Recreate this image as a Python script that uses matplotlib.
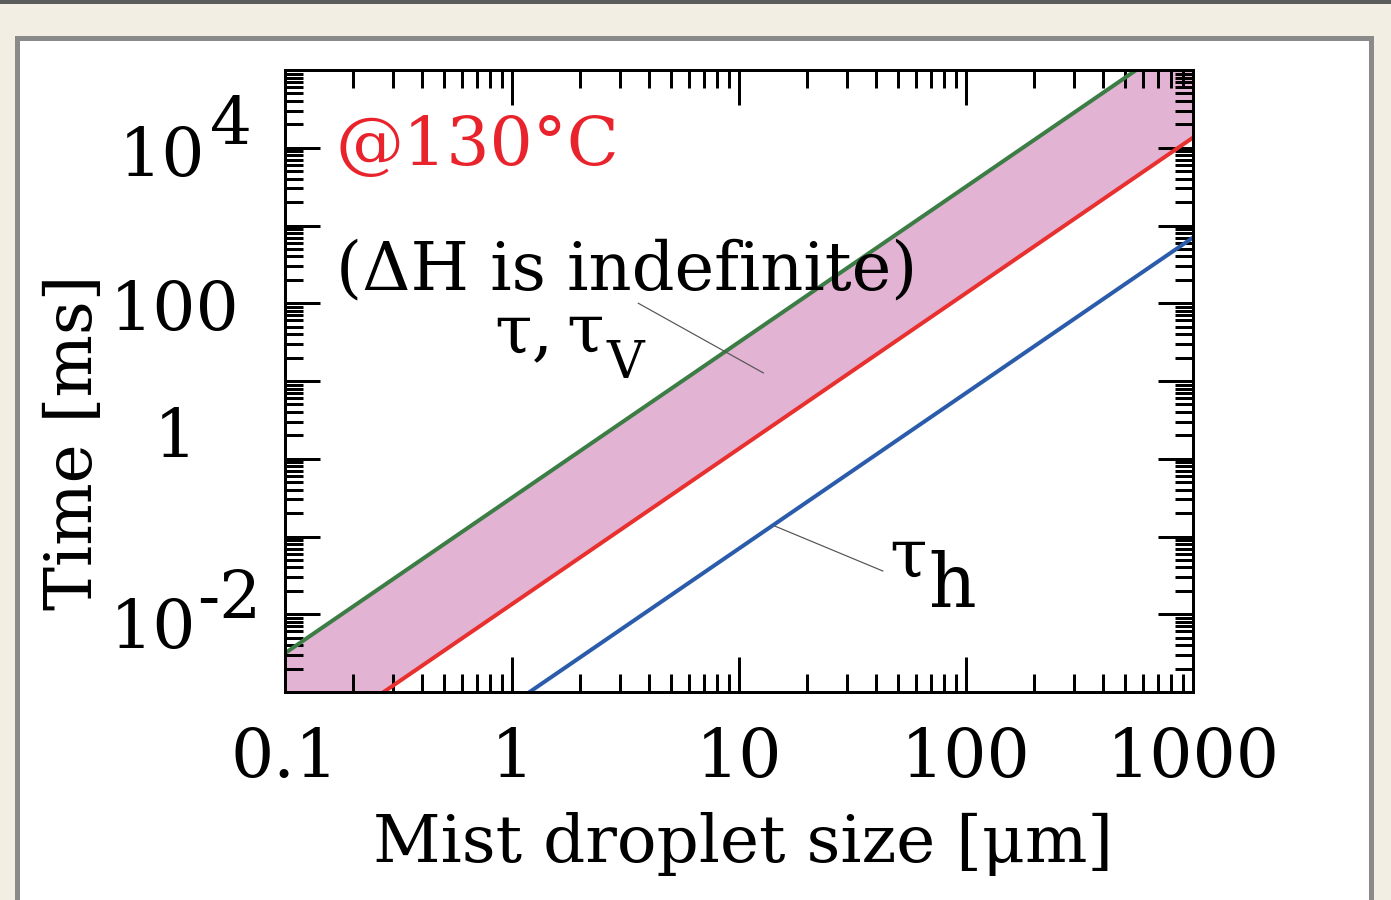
"""Mist droplet size vs. characteristic time at 130 C (log-log)."""

import matplotlib
matplotlib.use("Agg")
import matplotlib.pyplot as plt
import numpy as np
from matplotlib.patches import Rectangle
from matplotlib.ticker import FixedLocator, LogLocator, NullFormatter

# droplet size [um]
droplet_size = [0.1, 1, 10, 100, 1000]
# time [ms]
tau_upper = [3.16e-3, 0.316, 31.6, 3160, 3.16e5]    # green, upper bound of tau
tau_v = [1.35e-4, 1.35e-2, 1.35, 135, 1.35e4]       # red
tau_h = [7e-6, 7e-4, 7e-2, 7, 700]                 # blue

xtick_values = [0.1, 1, 10, 100, 1000]
xtick_labels = ["0.1", "1", "10", "100", "1000"]
ytick_values = [1e-2, 1, 1e2, 1e4]
ytick_base = ["10", "1", "100", "10"]
ytick_exp = ["-2", "", "", "4"]

W, H = 1391, 900
DPI = 72  # 1 pt == 1 px


def fx(px):
    return px / W


def fy(py):
    return 1 - py / H


def ax_xy(px, py):
    """pixel position -> axes fraction"""
    return (px - 285) / 908, (692 - py) / 622


def main() -> None:
    plt.rcParams["font.family"] = ["DejaVu Serif"]
    fig = plt.figure(figsize=(W / DPI, H / DPI), dpi=DPI, facecolor="#f2eee3")

    # page decoration: dark strip on top, white panel with grey frame
    fig.patches.append(Rectangle((0, fy(4)), 1, 4 / H, transform=fig.transFigure,
                                 facecolor="#5b5b5b", edgecolor="none", zorder=-10))
    fig.patches.append(Rectangle((fx(16.5), fy(902)), fx(1354), 864 / H, transform=fig.transFigure,
                                 facecolor="white", edgecolor="#8a8a8a", linewidth=5, zorder=-10))

    ax = fig.add_axes([fx(285), fy(692), fx(908), 622 / H])
    ax.set_xscale("log")
    ax.set_yscale("log")
    ax.set_xlim(0.1, 1000)
    ax.set_ylim(1e-3, 1e5)

    ax.fill_between(droplet_size, tau_v, tau_upper, color="#e2b3d3", linewidth=0, zorder=1)
    ax.plot(droplet_size, tau_upper, color="#3b7d44", linewidth=4, zorder=2)
    ax.plot(droplet_size, tau_v, color="#e8302f", linewidth=4, zorder=2)
    ax.plot(droplet_size, tau_h, color="#2b5cab", linewidth=4, zorder=2)

    # ticks
    ax.set_xticks(xtick_values, labels=xtick_labels)
    ax.xaxis.set_minor_locator(LogLocator(subs=np.arange(2, 10), numticks=100))
    ax.xaxis.set_minor_formatter(NullFormatter())
    ax.yaxis.set_major_locator(FixedLocator(10.0 ** np.arange(-3, 6)))
    ax.yaxis.set_major_formatter(NullFormatter())
    ax.yaxis.set_minor_locator(LogLocator(subs=np.arange(2, 10), numticks=100))
    ax.yaxis.set_minor_formatter(NullFormatter())
    ax.tick_params(which="both", direction="in", top=True, right=True, width=3, color="black")
    ax.tick_params(which="major", length=35, labelsize=68, pad=34)
    ax.tick_params(which="minor", length=18)
    for s in ax.spines.values():
        s.set_linewidth(3)

    # y tick labels drawn by hand (big superscripts, label "1" sits a bit high)
    ytr = ax.get_yaxis_transform()
    offsets = {"10^-2": (-89, -34), "1": (-88, 2), "100": (-46, -27), "10^4": (-80, -28)}
    exp_offsets = {"-2": (-88, -4), "4": (-75, 4)}
    for val, base, exp in zip(ytick_values, ytick_base, ytick_exp):
        key = base + ("^" + exp if exp else "")
        dx, dy = offsets[key]
        ax.annotate(base, xy=(0, val), xycoords=ytr, xytext=(dx, dy), textcoords="offset points",
                    ha="right", va="baseline", fontsize=68, annotation_clip=False)
        if exp:
            ex, ey = exp_offsets[exp]
            ax.annotate(exp, xy=(0, val), xycoords=ytr, xytext=(ex, ey), textcoords="offset points",
                        ha="left", va="baseline", fontsize=66, annotation_clip=False)

    # axis labels
    fig.text(fx(743), fy(862), "Mist droplet size [μm]", ha="center", va="baseline", fontsize=66)
    fig.text(fx(74), fy(442), "Time [ms]", rotation=90, ha="center", va="center", fontsize=66)

    # annotations
    ax.text(*ax_xy(336, 165), "@130°C", transform=ax.transAxes, color="#e8232b",
            fontsize=68, va="baseline", ha="left")
    ax.text(*ax_xy(336, 289), "(ΔH is indefinite)", transform=ax.transAxes,
            fontsize=67, va="baseline", ha="left", zorder=3)
    ax.text(*ax_xy(494, 352), "τ,", transform=ax.transAxes, fontsize=68, va="baseline", ha="left")
    ax.text(*ax_xy(566, 352), "τ", transform=ax.transAxes, fontsize=68, va="baseline", ha="left")
    ax.text(*ax_xy(606, 378), "V", transform=ax.transAxes, fontsize=52, va="baseline", ha="left")
    ax.text(*ax_xy(889, 577), "τ", transform=ax.transAxes, fontsize=68, va="baseline", ha="left")
    ax.text(*ax_xy(928, 607), "h", transform=ax.transAxes, fontsize=74, va="baseline", ha="left")

    # leader lines
    ax.plot([3.6, 12.8], [100, 12.7], color="#555555", linewidth=1.2, zorder=3)
    ax.plot([14.4, 43], [0.136, 0.036], color="#555555", linewidth=1.2, zorder=3)

    fig.savefig("out.png", dpi=DPI, facecolor=fig.get_facecolor())
    plt.close(fig)


if __name__ == "__main__":
    main()
